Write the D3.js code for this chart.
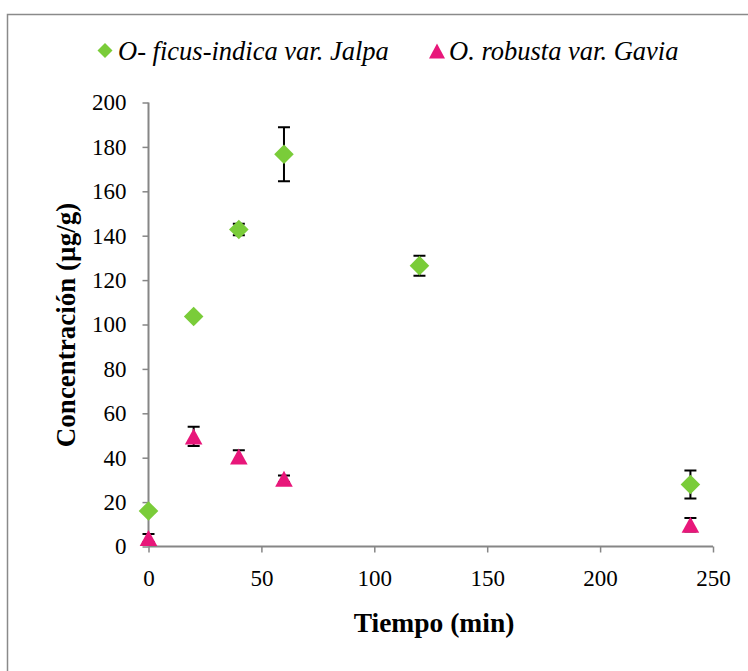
<!DOCTYPE html>
<html>
<head>
<meta charset="utf-8">
<script src="https://cdn.jsdelivr.net/npm/d3@7/dist/d3.min.js"></script>
<style>
  html, body { margin: 0; padding: 0; background: #fff; }
  svg { display: block; }
</style>
</head>
<body>
<svg id="chart" width="748" height="671"></svg>
<script>
// Time points (min) and concentrations (µg/g) with their error margins
const jalpaTime = [0, 20, 40, 60, 120, 240];
const jalpaConc = [16, 103.6, 142.8, 176.7, 126.5, 27.9];
const jalpaErr  = [0.5, 0.5, 2.6, 12.2, 4.5, 6.3];

const gaviaTime = [0, 20, 40, 60, 240];
const gaviaConc = [3.8, 49.6, 40.5, 30.5, 9.8];
const gaviaErr  = [1.8, 4.3, 2.8, 1.5, 3.0];

const xTicks = [0, 50, 100, 150, 200, 250];
const yTicks = [0, 20, 40, 60, 80, 100, 120, 140, 160, 180, 200];

const seriesNames = ["O- ficus-indica var. Jalpa", "O. robusta var. Gavia"];
const xTitle = "Tiempo (min)";
const yTitle = "Concentración (µg/g)";

const GREEN = "#7acc39";
const PINK = "#e8177a";
const AXIS = "#868686";
const SERIF = "Liberation Serif";

const svg = d3.select("#chart");

// outer frame
svg.append("rect")
  .attr("x", 7.5).attr("y", 14.5)
  .attr("width", 800).attr("height", 700)
  .attr("fill", "none").attr("stroke", "#8a8a8a").attr("stroke-width", 1.5);

const x = d3.scaleLinear().domain([0, 250]).range([148.5, 713]);
const y = d3.scaleLinear().domain([0, 200]).range([546.5, 102.5]);

// axes
const xAxis = d3.axisBottom(x).tickValues(xTicks).tickSize(6).tickPadding(17);
const yAxis = d3.axisLeft(y).tickValues(yTicks).tickSize(6).tickPadding(16);

const gx = svg.append("g").attr("transform", `translate(0,${y(0)})`).call(xAxis);
const gy = svg.append("g").attr("transform", `translate(${x(0)},0)`).call(yAxis);

[gx, gy].forEach(g => {
  g.select(".domain").attr("stroke", AXIS).attr("stroke-width", 2);
  g.selectAll(".tick line").attr("stroke", AXIS).attr("stroke-width", 1.5);
  g.selectAll(".tick text")
    .style("font-family", SERIF)
    .style("font-size", "23px")
    .attr("fill", "#000");
});
gy.select(".domain").attr("d", `M0,${y(200)}V${y(0)}`);
gx.select(".domain").attr("d", `M${x(0)},0H${x(250)}`);

// axis titles
svg.append("text")
  .attr("x", 434).attr("y", 632)
  .attr("text-anchor", "middle")
  .style("font-family", SERIF)
  .style("font-size", "27.5px").style("font-weight", "bold")
  .text(xTitle);

svg.append("text")
  .attr("transform", "translate(75,325) rotate(-90)")
  .attr("text-anchor", "middle")
  .style("font-family", SERIF)
  .style("font-size", "27px").style("font-weight", "bold")
  .text(yTitle);

// marker shapes
const diamond = (w, h) => `M0,${-h}L${w},0L0,${h}L${-w},0Z`;
const triangle = (w, h) => `M0,${-h}L${w},${h}L${-w},${h}Z`;

function errorBars(times, vals, errs) {
  const g = svg.append("g").attr("stroke", "#000").attr("stroke-width", 2).attr("fill", "none");
  times.forEach((t, i) => {
    const cx = x(t), y0 = y(vals[i] - errs[i]), y1 = y(vals[i] + errs[i]);
    g.append("path").attr("d",
      `M${cx},${y0}V${y1}M${cx - 6},${y0}H${cx + 6}M${cx - 6},${y1}H${cx + 6}`);
  });
}

errorBars(jalpaTime, jalpaConc, jalpaErr);
errorBars(gaviaTime, gaviaConc, gaviaErr);

svg.append("g").selectAll("path")
  .data(jalpaTime.map((t, i) => [t, jalpaConc[i]]))
  .join("path")
  .attr("transform", d => `translate(${x(d[0])},${y(d[1])})`)
  .attr("d", diamond(9.8, 9.8))
  .attr("fill", GREEN);

svg.append("g").selectAll("path")
  .data(gaviaTime.map((t, i) => [t, gaviaConc[i]]))
  .join("path")
  .attr("transform", d => `translate(${x(d[0])},${y(d[1])})`)
  .attr("d", triangle(8.8, 8))
  .attr("fill", PINK);

// legend
const legend = svg.append("g");
legend.append("path").attr("transform", "translate(105,50.5)").attr("d", diamond(7.5, 7.5)).attr("fill", GREEN);
legend.append("path").attr("transform", "translate(437,51)").attr("d", triangle(8, 7.5)).attr("fill", PINK);
legend.selectAll("text")
  .data([[118, seriesNames[0]], [449, seriesNames[1]]])
  .join("text")
  .attr("x", d => d[0]).attr("y", 60)
  .style("font-family", SERIF)
  .style("font-size", "26.5px").style("font-style", "italic")
  .text(d => d[1]);
</script>
</body>
</html>
